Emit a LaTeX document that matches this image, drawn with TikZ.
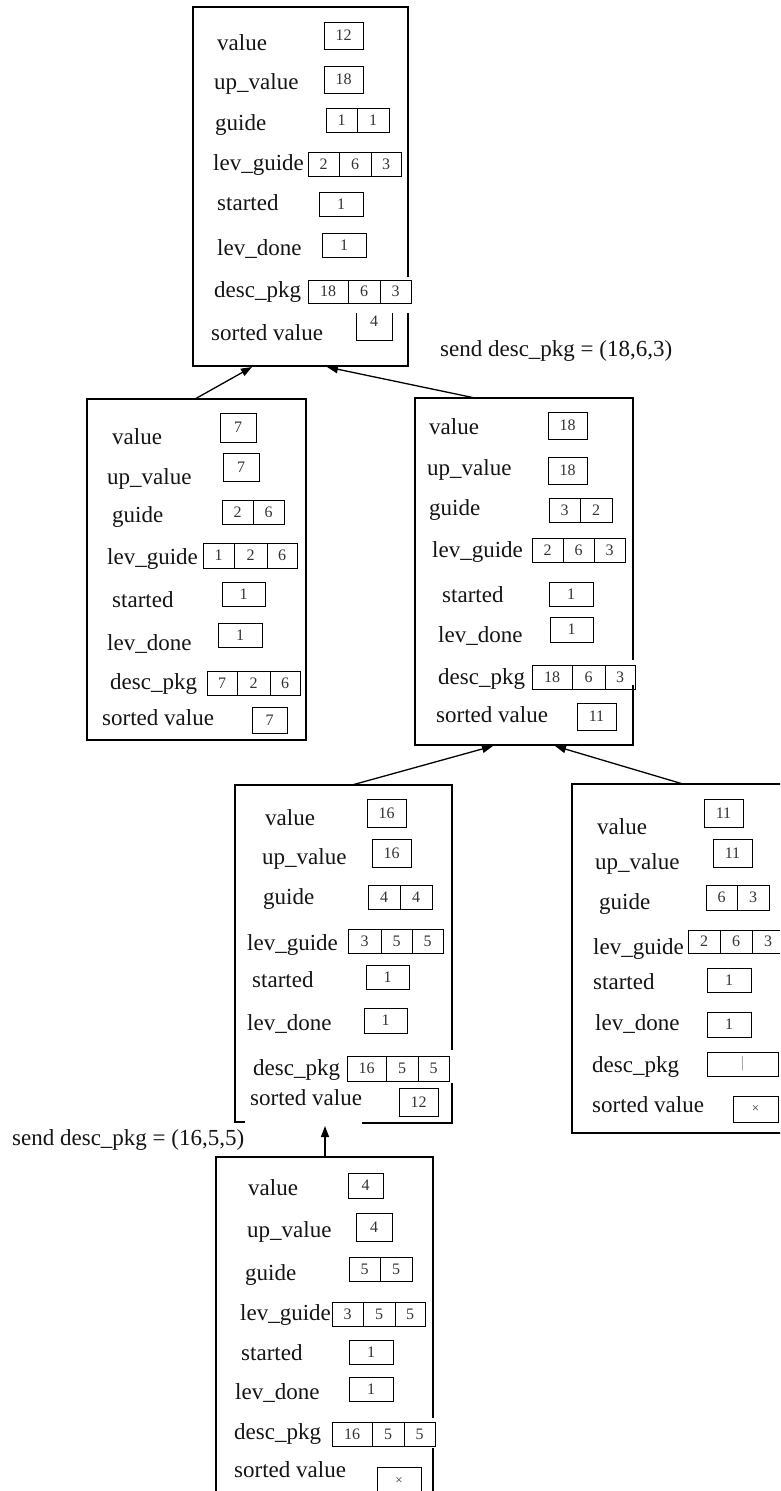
\documentclass[tikz,border=0pt]{standalone}
\usepackage{fontspec}
\setmainfont{Liberation Serif}
\usetikzlibrary{arrows.meta}
\tikzset{
  x=1pt, y=-1pt,
  lbl/.style={anchor=base west, inner sep=0pt, font=\fontsize{23}{27}\selectfont, text=black!92},
  cell/.style={draw, line width=1pt, inner sep=0pt, font=\fontsize{16}{19}\selectfont, text=black!80},
  boxframe/.style={line width=1.4pt},
  conn/.style={line width=1.3pt, -{Triangle[length=11pt,width=8pt]}},
  sendlbl/.style={anchor=base west, inner sep=0pt, font=\fontsize{23}{27}\selectfont, text=black!92},
}
\newcommand\cellrow[4]{%
  \pgfmathsetmacro\cellh{#3-#2}%
  \pgfmathsetmacro\cellmy{(#2+#3)/2}%
  \foreach \a/\b/\v [count=\i] in {#4}{%
    \pgfmathsetmacro\cellw{\b-\a}%
    \pgfmathsetmacro\cellmx{(\a+\b)/2}%
    \node[cell, minimum width=\cellw pt, minimum height=\cellh pt] (#1-\i) at (\cellmx,\cellmy) {\v};
  }%
}
\newcommand\smalltimes{{\fontsize{13}{15}\selectfont\texttimes}}
\begin{document}
\begin{tikzpicture}
\useasboundingbox (0,0) rectangle (780,1491);
\clip (0,0) rectangle (780,1491);

% ---------------- top box ----------------
\draw[boxframe] (408,277) -- (408,7) -- (193,7) -- (193,366) -- (408,366) -- (408,313);
\node[lbl] (t-value) at (217,50) {value};
\node[lbl] (t-up) at (214,89) {up\_value};
\node[lbl] (t-guide) at (215,130) {guide};
\node[lbl] (t-lg) at (213,170) {lev\_guide};
\node[lbl] (t-st) at (217,210) {started};
\node[lbl] (t-ld) at (217,255) {lev\_done};
\node[lbl] (t-dp) at (214,297) {desc\_pkg};
\node[lbl] (t-sv) at (211,340) {sorted value};
\cellrow{t-v}{22}{49}{324/363/12}
\cellrow{t-u}{66}{93}{324/363/18}
\cellrow{t-g}{108}{132}{326/357/1,357/389/1}
\cellrow{t-lg}{152}{176}{308/339/2,339/371/6,371/401/3}
\cellrow{t-st}{192}{216}{319/363/1}
\cellrow{t-ld}{233}{257}{322/366/1}
\cellrow{t-dp}{280}{303}{308/348/18,348/380/6,380/411/3}
\draw[line width=1pt] (356,313) -- (356,340) -- (392,340) -- (392,313);
\node[font=\fontsize{16}{19}\selectfont, text=black!80, inner sep=0pt] (t-sv-1) at (374,321) {4};

\node[sendlbl] (send1) at (440,356) {send desc\_pkg = (18,6,3)};

% ---------------- left box ----------------
\draw[boxframe] (87,399) rectangle (306,740);
\node[lbl] (l-value) at (112,444) {value};
\node[lbl] (l-up) at (107,484) {up\_value};
\node[lbl] (l-guide) at (112,522) {guide};
\node[lbl] (l-lg) at (107,564) {lev\_guide};
\node[lbl] (l-st) at (112,607) {started};
\node[lbl] (l-ld) at (107,650) {lev\_done};
\node[lbl] (l-dp) at (110,689) {desc\_pkg};
\node[lbl] (l-sv) at (102,725) {sorted value};
\cellrow{l-v}{413}{442}{220/256/7}
\cellrow{l-u}{453}{481}{223/259/7}
\cellrow{l-g}{500}{524}{222/253/2,253/284/6}
\cellrow{l-lg}{543}{568}{203/234/1,234/267/2,267/297/6}
\cellrow{l-st}{582}{606}{222/265/1}
\cellrow{l-ld}{623}{647}{218/262/1}
\cellrow{l-dp}{671}{695}{207/237/7,237/270/2,270/300/6}
\cellrow{l-sv}{707}{733}{252/287/7}

% ---------------- middle box ----------------
\draw[boxframe] (633,660) -- (633,398) -- (415,398) -- (415,745) -- (633,745) -- (633,685);
\node[lbl] (m-value) at (429,434) {value};
\node[lbl] (m-up) at (427,475) {up\_value};
\node[lbl] (m-guide) at (429,515) {guide};
\node[lbl] (m-lg) at (432,557) {lev\_guide};
\node[lbl] (m-st) at (442,602) {started};
\node[lbl] (m-ld) at (438,642) {lev\_done};
\node[lbl] (m-dp) at (438,684) {desc\_pkg};
\node[lbl] (m-sv) at (436,722) {sorted value};
\cellrow{m-v}{412}{439}{548/587/18}
\cellrow{m-u}{457}{484}{548/587/18}
\cellrow{m-g}{498}{522}{549/580/3,580/612/2}
\cellrow{m-lg}{538}{562}{532/563/2,563/594/6,594/625/3}
\cellrow{m-st}{582}{606}{549/593/1}
\cellrow{m-ld}{617}{642}{550/593/1}
\cellrow{m-dp}{665}{689}{532/572/18,572/605/6,605/635/3}
\cellrow{m-sv}{703}{730}{577/616/11}

% ---------------- lower middle box ----------------
\draw[boxframe] (452,1050) -- (452,785) -- (235,785) -- (235,1122) -- (245,1122);
\draw[boxframe] (362,1123) -- (452,1123) -- (452,1083);
\node[lbl] (c-value) at (265,825) {value};
\node[lbl] (c-up) at (262,864) {up\_value};
\node[lbl] (c-guide) at (263,904) {guide};
\node[lbl] (c-lg) at (247,950) {lev\_guide};
\node[lbl] (c-st) at (252,987) {started};
\node[lbl] (c-ld) at (247,1030) {lev\_done};
\node[lbl] (c-dp) at (253,1075) {desc\_pkg};
\node[lbl] (c-sv) at (250,1105) {sorted value};
\cellrow{c-v}{799}{827}{367/406/16}
\cellrow{c-u}{839}{867}{372/411/16}
\cellrow{c-g}{885}{909}{368/400/4,400/432/4}
\cellrow{c-lg}{929}{953}{348/381/3,381/412/5,412/443/5}
\cellrow{c-st}{965}{989}{366/409/1}
\cellrow{c-ld}{1008}{1033}{364/407/1}
\cellrow{c-dp}{1056}{1081}{347/386/16,386/418/5,418/449/5}
\cellrow{c-sv}{1088}{1116}{399/438/12}

% ---------------- right box ----------------
\draw[boxframe] (790,784) -- (572,784) -- (572,1133) -- (790,1133);
\node[lbl] (r-value) at (597,834) {value};
\node[lbl] (r-up) at (595,869) {up\_value};
\node[lbl] (r-guide) at (599,909) {guide};
\node[lbl] (r-lg) at (593,954) {lev\_guide};
\node[lbl] (r-st) at (593,989) {started};
\node[lbl] (r-ld) at (595,1030) {lev\_done};
\node[lbl] (r-dp) at (592,1072) {desc\_pkg};
\node[lbl] (r-sv) at (592,1112) {sorted value};
\cellrow{r-v}{799}{827}{704/743/11}
\cellrow{r-u}{839}{867}{713/752/11}
\cellrow{r-g}{885}{910}{706/737/6,737/769/3}
\cellrow{r-lg}{930}{953}{688/720/2,720/752/6,752/784/3}
\cellrow{r-st}{968}{992}{707/751/1}
\cellrow{r-ld}{1012}{1037}{707/751/1}
\cellrow{r-dp}{1052}{1076}{707/778/{\textcolor{black!45}{|}}}
\cellrow{r-sv}{1096}{1122}{733/778/{\smalltimes}}

% ---------------- bottom box ----------------
\draw[boxframe] (433,1418) -- (433,1157) -- (216,1157) -- (216,1500);
\draw[boxframe] (433,1448) -- (433,1500);
\node[lbl] (b-value) at (248,1195) {value};
\node[lbl] (b-up) at (247,1237) {up\_value};
\node[lbl] (b-guide) at (245,1280) {guide};
\node[lbl] (b-lg) at (240,1320) {lev\_guide};
\node[lbl] (b-st) at (241,1360) {started};
\node[lbl] (b-ld) at (235,1399) {lev\_done};
\node[lbl] (b-dp) at (234,1439) {desc\_pkg};
\node[lbl] (b-sv) at (234,1477) {sorted value};
\cellrow{b-v}{1173}{1198}{348/383/4}
\cellrow{b-u}{1213}{1241}{356/392/4}
\cellrow{b-g}{1257}{1281}{349/380/5,380/412/5}
\cellrow{b-lg}{1302}{1326}{332/363/3,363/395/5,395/425/5}
\cellrow{b-st}{1340}{1364}{349/393/1}
\cellrow{b-ld}{1377}{1401}{349/393/1}
\cellrow{b-dp}{1422}{1446}{332/372/16,372/404/5,404/435/5}
\node[font=\fontsize{16}{19}\selectfont, text=black!80, inner sep=0pt] (b-sv-1) at (399,1481) {\smalltimes};
\draw[line width=1pt] (377,1500) -- (377,1467) -- (421,1467) -- (421,1500);

\node[sendlbl] (send2) at (12,1145) {send desc\_pkg = (16,5,5)};

% ---------------- connectors ----------------
\coordinate (l-out) at (195,399);
\coordinate (t-in1) at (252,367);
\coordinate (m-out) at (475,398);
\coordinate (t-in2) at (327,367);
\coordinate (c-out) at (352,785);
\coordinate (m-in1) at (493,746);
\coordinate (r-out) at (683,784);
\coordinate (m-in2) at (555,746);
\coordinate (b-out) at (325,1157);
\coordinate (c-in) at (325,1126);
\draw[conn] (l-out) -- (t-in1);
\draw[conn] (m-out) -- (t-in2);
\draw[conn] (c-out) -- (m-in1);
\draw[conn] (r-out) -- (m-in2);
\draw[conn] (b-out) -- (c-in);
\end{tikzpicture}
\end{document}
